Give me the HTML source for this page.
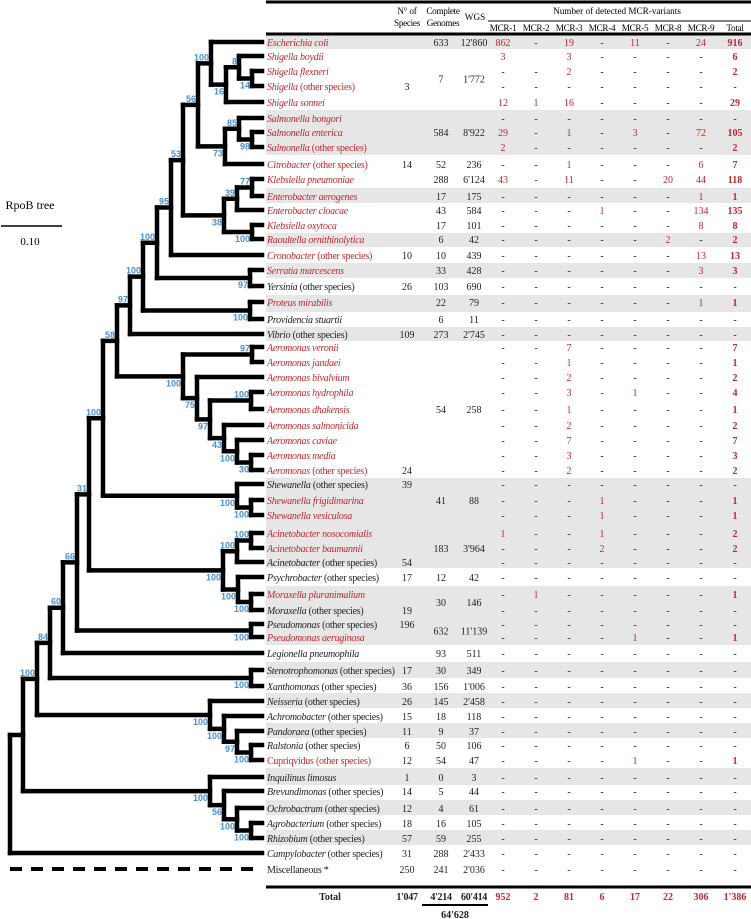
<!DOCTYPE html>
<html><head><meta charset="utf-8"><style>
html,body{margin:0;padding:0;background:#fff;}
svg{display:block;font-family:"Liberation Serif",serif;}
.t{font-size:10px;}
.nm{font-size:10px;letter-spacing:-0.25px;}
.r{fill:#c1272d;}
.k{fill:#222;}
.h{font-size:9.2px;}
.sup{font-family:"Liberation Sans",sans-serif;font-size:9px;font-weight:bold;fill:#4a90cf;}
</style></head><body>
<svg id="fig" width="751" height="919" viewBox="0 0 751 919" xmlns="http://www.w3.org/2000/svg">
<g id="bands"></g>
<g id="tree"></g>
<g id="table"></g>
<g id="hdr">
<line x1="266" y1="2" x2="751" y2="2" stroke="#000" stroke-width="3"/>
<text class="h" x="407" y="14" text-anchor="middle" letter-spacing="-0.2">N° of</text>
<text class="h" x="407" y="26" text-anchor="middle" letter-spacing="-0.3">Species</text>
<text class="h" x="443" y="14" text-anchor="middle" letter-spacing="-0.3">Complete</text>
<text class="h" x="443" y="26" text-anchor="middle" letter-spacing="-0.3">Genomes</text>
<text class="h" x="475" y="20" text-anchor="middle">WGS</text>
<text class="h" x="617" y="14" text-anchor="middle">Number of detected MCR-variants</text>
<line x1="488" y1="21" x2="751" y2="21" stroke="#000" stroke-width="1"/>
<line x1="266" y1="34" x2="751" y2="34" stroke="#000" stroke-width="3"/>
<line x1="266" y1="887" x2="751" y2="887" stroke="#000" stroke-width="3"/>
<line x1="422" y1="905" x2="488" y2="905" stroke="#000" stroke-width="2"/>
<text x="30" y="209" text-anchor="middle" font-size="12">RpoB tree</text>
<line x1="1" y1="226" x2="62" y2="226" stroke="#000" stroke-width="1.5"/>
<text x="30" y="245" text-anchor="middle" font-size="11">0.10</text>
<line x1="10" y1="869" x2="262" y2="869" stroke="#000" stroke-width="4" stroke-dasharray="12,9"/>
</g>
</svg>
<script>
const mcrHeaders=["MCR-1","MCR-2","MCR-3","MCR-4","MCR-5","MCR-8","MCR-9","Total"];
const names=[["Escherichia coli",""],["Shigella boydii",""],["Shigella flexneri",""],["Shigella"," (other species)"],["Shigella sonnei",""],["Salmonella bongori",""],["Salmonella enterica",""],["Salmonella"," (other species)"],["Citrobacter"," (other species)"],["Klebsiella pneumoniae",""],["Enterobacter aerogenes",""],["Enterobacter cloacae",""],["Klebsiella oxytoca",""],["Raoultella ornithinolytica",""],["Cronobacter"," (other species)"],["Serratia marcescens",""],["Yersinia"," (other species)"],["Proteus mirabilis",""],["Providencia stuartii",""],["Vibrio"," (other species)"],["Aeromonas veronii",""],["Aeromonas jandaei",""],["Aeromonas bivalvium",""],["Aeromonas hydrophila",""],["Aeromonas dhakensis",""],["Aeromonas salmonicida",""],["Aeromonas caviae",""],["Aeromonas media",""],["Aeromonas"," (other species)"],["Shewanella"," (other species)"],["Shewanella frigidimarina",""],["Shewanella vesiculosa",""],["Acinetobacter nosocomialis",""],["Acinetobacter baumannii",""],["Acinetobacter"," (other species)"],["Psychrobacter"," (other species)"],["Moraxella pluranimalium",""],["Moraxella"," (other species)"],["Pseudomonas","  (other species)"],["Pseudomonas aeruginosa",""],["Legionella pneumophila",""],["Stenotrophomonas"," (other species)"],["Xanthomonas"," (other species)"],["Neisseria"," (other species)"],["Achromobacter"," (other species)"],["Pandoraea"," (other species)"],["Ralstonia"," (other species)"],["","Cupriqvidus (other species)"],["Inquilinus limosus",""],["Brevundimonas"," (other species)"],["Ochrobactrum"," (other species)"],["Agrobacterium"," (other species)"],["Rhizobium"," (other species)"],["Campylobacter"," (other species)"],["","Miscellaneous *"]];
const redRows=[0,1,2,3,4,5,6,7,8,9,10,11,12,13,14,15,17,20,21,22,23,24,25,26,27,28,30,31,32,33,36,39,47];
const D="-";
const mcrValues=[
["862",D,"19",D,"11",D,"24","916"],["3","","3",D,D,D,D,"6"],[D,D,"2",D,D,D,D,"2"],[D,D,D,D,D,D,D,D],["12","1","16",D,D,D,D,"29"],
[D,D,D,D,D,D,D,D],["29",D,"1",D,"3",D,"72","105"],["2",D,D,D,D,D,D,"2"],[D,D,"1",D,D,D,"6","7"],["43",D,"11",D,D,"20","44","118"],
[D,D,D,D,D,D,"1","1"],[D,D,D,"1",D,D,"134","135"],[D,D,D,D,D,D,"8","8"],[D,D,D,D,D,"2",D,"2"],[D,D,D,D,D,D,"13","13"],
[D,D,D,D,D,D,"3","3"],[D,D,D,D,D,D,D,D],[D,D,D,D,D,D,"1","1"],[D,D,D,D,D,D,D,D],[D,D,D,D,D,D,D,D],
[D,D,"7",D,D,D,D,"7"],[D,D,"1",D,D,D,D,"1"],[D,D,"2",D,D,D,D,"2"],[D,D,"3",D,"1",D,D,"4"],[D,D,"1",D,D,D,D,"1"],
[D,D,"2",D,D,D,D,"2"],[D,D,"7",D,D,D,D,"7"],[D,D,"3",D,D,D,D,"3"],[D,D,"2",D,D,D,D,"2"],[D,D,D,D,D,D,D,D],
[D,D,D,"1",D,D,D,"1"],[D,D,D,"1",D,D,D,"1"],["1",D,D,"1",D,D,D,"2"],[D,D,D,"2",D,D,D,"2"],[D,D,D,D,D,D,D,D],
[D,D,D,D,D,D,D,D],[D,"1",D,D,D,D,D,"1"],[D,D,D,D,D,D,D,D],[D,D,D,D,D,D,D,D],[D,D,D,D,"1",D,D,"1"],
[D,D,D,D,D,D,D,D],[D,D,D,D,D,D,D,D],[D,D,D,D,D,D,D,D],[D,D,D,D,D,D,D,D],[D,D,D,D,D,D,D,D],
[D,D,D,D,D,D,D,D],[D,D,D,D,D,D,D,D],[D,D,D,D,"1",D,D,"1"],[D,D,D,D,D,D,D,D],[D,D,D,D,D,D,D,D],
[D,D,D,D,D,D,D,D],[D,D,D,D,D,D,D,D],[D,D,D,D,D,D,D,D],[D,D,D,D,D,D,D,D],[D,D,D,D,D,D,D,D]];
const countCells=[[0,"","633","12'860"],[2.5,"","7","1'772"],[3,"3","",""],[6,"","584","8'922"],[8,"14","52","236"],[9,"","288","6'124"],[10,"","17","175"],[11,"","43","584"],[12,"","17","101"],[13,"","6","42"],[14,"10","10","439"],[15,"","33","428"],[16,"26","103","690"],[17,"","22","79"],[18,"","6","11"],[19,"109","273","2'745"],[24,"","54","258"],[28,"24","",""],[29,"39","",""],[30,"","41","88"],[33,"","183","3'964"],[34,"54","",""],[35,"17","12","42"],[36.5,"","30","146"],[37,"19","",""],[38,"196","",""],[38.5,"","632","11'139"],[40,"","93","511"],[41,"17","30","349"],[42,"36","156","1'006"],[43,"26","145","2'458"],[44,"15","18","118"],[45,"11","9","37"],[46,"6","50","106"],[47,"12","54","47"],[48,"1","0","3"],[49,"14","5","44"],[50,"12","4","61"],[51,"18","16","105"],[52,"57","59","255"],[53,"31","288","2'433"],[54,"250","241","2'036"]];
const totalCounts=["1'047","4'214","60'414"];
const totalMcr=["952","2","81","6","17","22","306","1'386"];
const grandTotal="64'628";

const rowY=[42,56,71,86,102,118,132,147,164,179,196,210,225,239,255,270,286,302,319,334,347,362,377,392,409,425,440,455,470,484,500,515,533,548,562,577,594,610,624,637,653,670,686,701,716,731,745,760,777,791,808,823,838,853,869];
const bands=[[35,49],[110,155],[188,203],[233,247],[263,278],[295,312],[327,341],[478,568],[586,645],[662,678],[693,708],[723,738],[768,785],[800,815],[830,845]];
const colX=[503,536,569,602,635,668,701,735];
const NS="http://www.w3.org/2000/svg";
function mk(tag,attrs,parent){const e=document.createElementNS(NS,tag);for(const k in attrs)e.setAttribute(k,attrs[k]);parent.appendChild(e);return e;}
function yAt(p){const i=Math.floor(p),f=p-i;return f?rowY[i]+(rowY[i+1]-rowY[i])*f:rowY[i];}

const bg=document.getElementById('bands');
bands.forEach(b=>{const r=mk('rect',{x:266,y:b[0],width:485,height:b[1]-b[0],fill:'#e6e6e6'},bg);

});

const tb=document.getElementById('table');
mcrHeaders.forEach((h,i)=>{const t=mk('text',{x:colX[i],y:31,'text-anchor':'middle',class:'h','letter-spacing':'-0.3'},tb);t.textContent=h;

});

names.forEach((n,i)=>{
 const red=redRows.includes(i);
 const y=rowY[i]+4;
 const t=mk('text',{x:267,y:y,class:'nm '+(red?'r':'k')},tb);
 
 
 if(n[0]){const a=mk('tspan',{'font-style':'italic'},t);a.textContent=n[0];}
 if(n[1]){const b=mk('tspan',{},t);b.textContent=n[1];}
 mcrValues[i].forEach((v,j)=>{
  if(!v)return;
  const dash=v===D;
  const c=mk('text',{x:colX[j],y:y,'text-anchor':'middle',class:'t '+(dash?'k':'r')},tb);
  if(j===7&&!dash)c.setAttribute('font-weight','bold');
  c.textContent=v;
  
  
 });
});
countCells.forEach(c=>{const y=yAt(c[0])+4;[[407,c[1]],[441,c[2]],[474,c[3]]].forEach(p=>{if(!p[1])return;
 const t=mk('text',{x:p[0],y:y,'text-anchor':'middle',class:'t k'},tb);t.textContent=p[1];
 
 });});
{const t=mk('text',{x:330,y:900,'text-anchor':'middle',class:'t k','font-weight':'bold'},tb);t.textContent='Total';

}
[407,441,474].forEach((x,i)=>{const t=mk('text',{x:x,y:900,'text-anchor':'middle',class:'t k','font-weight':'bold','letter-spacing':'-0.3'},tb);t.textContent=totalCounts[i];

});
totalMcr.forEach((v,i)=>{const t=mk('text',{x:colX[i],y:900,'text-anchor':'middle',class:'t r','font-weight':'bold'},tb);t.textContent=v;

});
{const t=mk('text',{x:455,y:918,'text-anchor':'middle',class:'t k','font-weight':'bold'},tb);t.textContent=grandTotal;

}

const N=(x,l,...k)=>({x:x,l:l,k:k});
const n211=N(211,'100',0,N(226,'16',N(239,'8',1,N(252,'14',2,3)),4));
const n225=N(225,'73',N(239,'85',5,N(252,'98',6,7)),8);
const n224=N(224,'38',N(237,'39',N(252,'77',9,10),11),N(252,'100',12,13));
const n130=N(130,'97',N(143,'100',N(157,'100',N(171,'95',N(183,'53',N(198,'56',n211,n225),n224),14),N(250,'97',15,16)),N(250,'100',17,18)),19);
const aero=N(183,'100',N(252,'97',20,21),N(197,'75',22,N(210,'97',N(251,'100',23,24),N(224,'43',25,N(237,'100',26,N(251,'30',27,28))))));
const shew=N(237,'100',29,N(251,'100',30,31));
const am=N(223,'100',N(237,'100',N(251,'100',32,33),34),N(238,'100',35,N(251,'100',36,37)));
const n50=N(50,'84',N(63,'60',N(77,'66',N(89,'31',N(103,'100',N(117,'58',n130,aero),shew),am),N(251,'100',38,39)),40),N(251,'100',41,42));
const neis=N(210,'100',43,N(224,'100',44,N(237,'97',45,N(251,'100',46,47))));
const inq=N(210,'100',48,N(224,'56',49,N(237,'100',50,N(251,'100',51,52))));
const root=N(10,'',N(23,'',N(37,'100',n50,neis),inq),53);
const tr=document.getElementById('tree');
function ny(n){if(typeof n==='number')return rowY[n];if(n.y===undefined){n.y=(ny(n.k[0])+ny(n.k[n.k.length-1]))/2;}return n.y;}
function line(x1,y1,x2,y2){const l=mk('line',{x1:x1,y1:y1,x2:x2,y2:y2,stroke:'#000','stroke-width':4.5,'stroke-linecap':'square'},tr);

}
function draw(n,px,first){
 if(typeof n==='number'){line(px,rowY[n],262,rowY[n]);return;}
 const y=ny(n);
 if(px!==null)line(px,y,n.x,y);
 line(n.x,ny(n.k[0]),n.x,ny(n.k[n.k.length-1]));
 if(n.l){const t=mk('text',{x:n.x-2,y:first?y-3:y+10,'text-anchor':'end',class:'sup'},tr);t.textContent=n.l;
 
 }
 n.k.forEach((c,i)=>draw(c,n.x,i===0));
}
draw(root,null,true);
</script>
</body></html>
